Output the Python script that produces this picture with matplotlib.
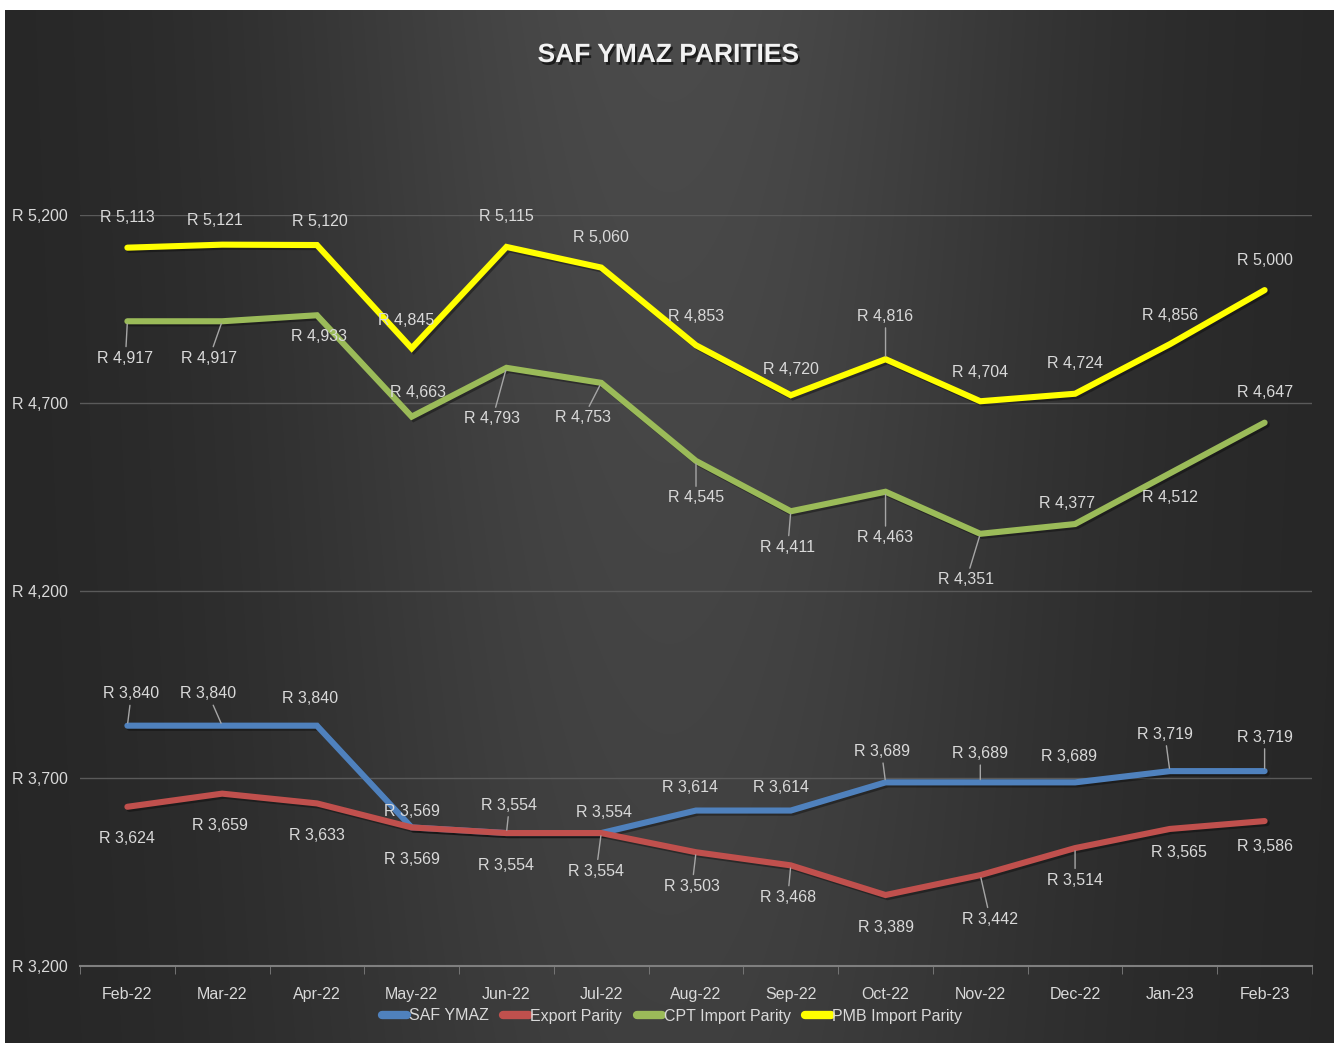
import matplotlib
matplotlib.use("Agg")
import matplotlib.pyplot as plt
import matplotlib.patheffects as pe
import numpy as np
from matplotlib.ticker import FuncFormatter, FixedLocator

plt.rcParams["font.family"] = ["Liberation Sans", "DejaVu Sans"]

# data
months = ["Feb-22", "Mar-22", "Apr-22", "May-22", "Jun-22", "Jul-22", "Aug-22",
          "Sep-22", "Oct-22", "Nov-22", "Dec-22", "Jan-23", "Feb-23"]
saf_ymaz = [3840, 3840, 3840, 3569, 3554, 3554, 3614, 3614, 3689, 3689, 3689, 3719, 3719]
export_parity = [3624, 3659, 3633, 3569, 3554, 3554, 3503, 3468, 3389, 3442, 3514, 3565, 3586]
cpt_import = [4917, 4917, 4933, 4663, 4793, 4753, 4545, 4411, 4463, 4351, 4377, 4512, 4647]
pmb_import = [5113, 5121, 5120, 4845, 5115, 5060, 4853, 4720, 4816, 4704, 4724, 4856, 5000]

# label offsets in pixels (dx, dy up), and whether a leader line is drawn
off_saf = [(4, 32), (-14, 32), (-7, 27), (0, 16), (3, 28), (3, 21), (-6, 23),
           (-10, 23), (-4, 31), (0, 29), (-6, 26), (-5, 37), (0, 34)]
lead_saf = [1, 1, 0, 0, 1, 0, 0, 0, 1, 1, 0, 1, 1]
off_exp = [(0, -32), (-2, -32), (0, -32), (0, -32), (0, -32), (-5, -38), (-4, -34),
           (-3, -32), (0, -32), (10, -44), (0, -32), (9, -24), (0, -25)]
lead_exp = [0, 0, 0, 0, 0, 1, 1, 1, 0, 1, 1, 0, 0]
off_cpt = [(-2, -37), (-13, -37), (2, -21), (6, 24), (-14, -51), (-18, -35), (0, -37),
           (-3, -36), (0, -46), (-14, -46), (-8, 21), (0, -24), (0, 30)]
lead_cpt = [1, 1, 0, 0, 1, 1, 1, 1, 1, 1, 0, 0, 0]
off_pmb = [(0, 30), (-7, 24), (3, 24), (-6, 28), (0, 30), (0, 30), (0, 29),
           (0, 26), (0, 43), (0, 29), (0, 30), (0, 29), (0, 30)]
lead_pmb = [0, 0, 0, 0, 0, 0, 0, 0, 1, 0, 0, 0, 0]

series = [
    ("SAF YMAZ", saf_ymaz, "#4F81BD", off_saf, lead_saf),
    ("Export Parity", export_parity, "#C0504D", off_exp, lead_exp),
    ("CPT Import Parity", cpt_import, "#9BBB59", off_cpt, lead_cpt),
    ("PMB Import Parity", pmb_import, "#FFFF00", off_pmb, lead_pmb),
]

W, H = 1334, 1043
fig = plt.figure(figsize=(W / 100, H / 100), dpi=100, facecolor="white")

# gradient background panel
bg = fig.add_axes([5 / W, 0, 1 - 5 / W, 1 - 10 / H])
gx = np.linspace(0, 1, 400)
gy = np.linspace(0, 1, 300)
X, Y = np.meshgrid(gx, gy)
val = 37 + 38 * np.exp(-((X - 0.5) / 0.3) ** 2) * (1 - 0.3 * Y)
img = np.dstack([val, val, val]) / 255.0
bg.imshow(img, aspect="auto", extent=[0, 1, 1, 0], interpolation="bilinear")
bg.set_axis_off()

ax = fig.add_axes([80 / W, 77 / H, 1232 / W, 751 / H])
ax.set_facecolor("none")
x = np.arange(len(months))

TXT = "#d9d9d9"
FS = 11.5
for name, vals, col, offs, leads in series:
    ax.plot(x, vals, color=col, linewidth=4.4, label=name, solid_capstyle="round",
            solid_joinstyle="miter", clip_on=False, zorder=3,
            path_effects=[pe.SimpleLineShadow(offset=(1.5, -1.5), alpha=0.35), pe.Normal()])
    for i, v in enumerate(vals):
        dx, dy = offs[i]
        ap = dict(arrowstyle="-", color="#a6a6a6", lw=1.0, shrinkA=1, shrinkB=2) if leads[i] else None
        ax.annotate(f"R {v:,}", xy=(i, v), xytext=(dx, dy), textcoords="offset pixels",
                    ha="center", va="center", fontsize=FS, color=TXT,
                    arrowprops=ap, zorder=4, annotation_clip=False)

ax.set_xlim(-0.5, len(months) - 0.5)
ax.set_ylim(3200, 5200)
ax.set_yticks([3200, 3700, 4200, 4700, 5200])
ax.yaxis.set_major_formatter(FuncFormatter(lambda v, p: f"R {int(v):,}"))
ax.set_xticks(x)
ax.set_xticklabels(months)
ax.xaxis.set_minor_locator(FixedLocator(np.arange(-0.5, len(months), 1.0)))
ax.tick_params(axis="x", which="major", length=0, pad=15, labelsize=FS, labelcolor=TXT)
ax.tick_params(axis="x", which="minor", length=6, color="#7f7f7f", direction="out")
ax.tick_params(axis="y", length=0, pad=9, labelsize=FS, labelcolor=TXT)
ax.grid(axis="y", color="#5a5a5a", linewidth=1.0)
for s in ["top", "right", "left"]:
    ax.spines[s].set_visible(False)
ax.spines["bottom"].set_color("#7f7f7f")
ax.spines["bottom"].set_linewidth(1.5)
ax.set_axisbelow(True)

fig.text(668 / W, 1 - 55 / H, "SAF YMAZ PARITIES", ha="center", va="center",
         fontsize=19, fontweight="bold", color="#f2f2f2",
         path_effects=[pe.withSimplePatchShadow(offset=(1.5, -2), shadow_rgbFace="black", alpha=0.6)])

leg = fig.legend(loc="center", bbox_to_anchor=(672 / W, 1 - 1016 / H), ncol=4, frameon=False,
                 handlelength=1.6, handletextpad=0.1, columnspacing=0.9, fontsize=FS,
                 borderpad=0.0)
for t in leg.get_texts():
    t.set_color(TXT)
for h in leg.get_lines():
    h.set_linewidth(6)
    h.set_path_effects([])

fig.savefig("out.png", dpi=100, facecolor=fig.get_facecolor())
